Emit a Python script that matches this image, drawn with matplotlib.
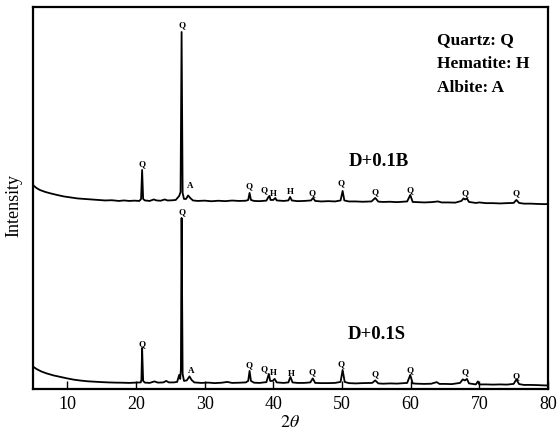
import matplotlib
matplotlib.use("Agg")
import matplotlib.pyplot as plt

# upper pattern (D+0.1B): 2theta and intensity (arbitrary, offset)
top_x = [5.0, 5.5, 6.0, 6.8, 7.6, 8.5, 9.5, 10.5, 11.5, 12.5, 13.5, 14.5, 15.5, 16.5,
         17.5, 18.3, 19.0, 19.8, 20.5, 20.75, 20.9, 21.05, 21.3, 22.0, 22.6, 23.0, 23.6,
         24.2, 24.6, 25.2, 25.8, 26.3, 26.5, 26.65, 26.8, 27.0, 27.3, 27.6, 27.9, 28.3,
         29.0, 30.0, 31.0, 32.0, 33.0, 34.0, 35.0, 36.0, 36.35, 36.55, 36.75, 37.2, 38.0,
         39.0, 39.3, 39.45, 39.6, 40.0, 40.3, 40.5, 41.5, 42.2, 42.45, 42.7, 43.5, 44.5,
         45.5, 45.8, 46.1, 47.0, 48.0, 49.0, 49.8, 50.1, 50.35, 51.0, 52.0, 53.0, 54.3,
         54.85, 55.3, 56.0, 57.0, 58.0, 59.5, 59.95, 60.3, 61.0, 62.0, 63.0, 64.0, 64.5,
         65.5, 66.5, 67.4, 67.7, 67.95, 68.2, 68.5, 69.5, 70.0, 71.0, 72.0, 73.0, 74.0,
         75.0, 75.4, 75.8, 76.5, 77.5, 78.5, 79.5, 80.0]
top_y = [204, 201, 199, 197, 195.5, 194, 192.5, 191.5, 190.5, 190, 189.5, 189, 188.5, 188.7,
         188, 188.5, 188, 188.3, 188, 190, 219, 190, 188.5, 188, 189.5, 188.5, 188.2,
         189.5, 188.5, 188.6, 189, 193, 197, 357, 196, 190, 190, 193.5, 191, 188.5,
         188, 188.3, 187.7, 188.2, 187.8, 188.4, 188, 188.2, 189, 196, 189, 188, 187.8,
         188.3, 192, 193, 189, 189, 191, 188.5, 188, 188.5, 192, 188.5, 187.8, 188,
         188.5, 191, 188, 187.5, 187.8, 187.5, 188.5, 198, 188.5, 187.5, 187.5, 187.2, 187.5,
         191, 187.3, 187, 187.2, 186.8, 187.5, 194, 187, 186.8, 186.5, 186.8, 187.5, 186.5,
         186.5, 186.3, 188, 190.5, 189.5, 190.5, 187, 186, 186.5, 185.8, 185.8, 185.5, 185.8,
         186, 189, 186, 185.3, 185.3, 185, 184.8, 185]

# lower pattern (D+0.1S)
bot_x = [5.0, 5.5, 6.2, 7.0, 8.0, 9.0, 10.0, 11.0, 12.0, 13.0, 14.0, 15.0, 16.0, 17.0,
         18.0, 19.0, 20.0, 20.7, 20.8, 20.9, 21.05, 21.3, 22.0, 22.7, 23.2, 24.0, 24.4,
         24.8, 25.5, 26.0, 26.3, 26.45, 26.55, 26.65, 26.8, 27.0, 27.4, 27.8, 28.1, 28.5,
         29.5, 30.5, 31.5, 32.5, 33.3, 34.0, 35.0, 36.0, 36.35, 36.55, 36.75, 37.2, 38.0,
         39.0, 39.35, 39.55, 39.9, 40.2, 40.5, 41.5, 42.2, 42.5, 42.8, 43.5, 44.5, 45.4,
         45.75, 46.1, 47.0, 48.0, 49.0, 49.8, 50.1, 50.4, 51.0, 52.0, 53.0, 54.4, 54.85,
         55.3, 56.0, 57.0, 58.0, 59.5, 59.95, 60.3, 61.0, 62.0, 63.0, 63.8, 64.2, 65.0,
         66.0, 67.2, 67.6, 67.9, 68.2, 68.5, 69.5, 69.8, 70.0, 71.0, 72.0, 73.0, 74.0,
         75.0, 75.4, 75.8, 76.5, 77.5, 78.5, 79.5, 80.0]
bot_y = [22.5, 20, 17.5, 15.5, 13.5, 12, 10.5, 9.2, 8.3, 7.6, 7.2, 6.8, 6.5, 6.3,
         6.2, 6.0, 6.3, 6.5, 9, 41, 8, 6.3, 6, 7.5, 6.3, 6.5, 8,
         6.5, 6.5, 7, 14, 10, 20, 171, 15, 8, 8.5, 12.5, 9, 6.5,
         6, 6.3, 5.8, 6.2, 7, 6, 6.2, 6.5, 8, 18, 8, 6.2, 6,
         6.8, 15, 8, 8, 10, 6.5, 6, 6.5, 12, 6.5, 6, 6, 6.5,
         10.5, 6, 5.8, 5.8, 6, 7, 19, 7, 5.8, 5.5, 5.8, 6, 8.5,
         5.5, 5.2, 5.5, 5.3, 6, 14, 5.5, 5.2, 5, 5.2, 6.8, 5, 5,
         4.8, 6, 9.5, 8.5, 10, 5.5, 4.5, 7.5, 4.5, 4.5, 4.3, 4.5, 4.3,
         5, 9.5, 4.8, 4, 4, 3.8, 3.5, 3.5]

# phase labels over the peaks
top_lab_x = [20.9, 26.65, 27.95, 36.5, 38.6, 40.05, 42.5, 45.7, 49.9, 54.8, 59.9, 67.9, 75.3]
top_lab_y = [225, 364, 203, 203, 199, 195, 197, 196, 206, 197, 199, 196, 196]
top_lab_t = ["Q", "Q", "A", "Q", "Q", "H", "H", "Q", "Q", "Q", "Q", "Q", "Q"]
bot_lab_x = [20.9, 26.65, 28.0, 36.5, 38.6, 40.05, 42.6, 45.7, 49.9, 54.8, 59.9, 67.9, 75.3]
bot_lab_y = [45, 177, 18, 24, 20, 16, 15, 17, 25, 15, 19, 17, 13]
bot_lab_t = ["Q", "Q", "A", "Q", "Q", "H", "H", "Q", "Q", "Q", "Q", "Q", "Q"]

legend_lines = ["Quartz: Q", "Hematite: H", "Albite: A"]

plt.rcParams["font.family"] = ["Liberation Serif", "DejaVu Serif"]
plt.rcParams["mathtext.fontset"] = "stix"

fig = plt.figure(figsize=(5.58, 4.36), dpi=100)
ax = fig.add_axes([0.059, 0.108, 0.923, 0.876])

ax.plot(top_x, top_y, color="black", lw=1.3)
ax.plot(bot_x, bot_y, color="black", lw=1.3)

for x, y, t in zip(top_lab_x, top_lab_y, top_lab_t):
    ax.text(x, y, t, ha="center", va="center", fontsize=6.5, fontweight="bold")
for x, y, t in zip(bot_lab_x, bot_lab_y, bot_lab_t):
    ax.text(x, y, t, ha="center", va="center", fontsize=6.5, fontweight="bold")

for i, line in enumerate(legend_lines):
    ax.text(63.8, 349 - 24 * i, line, ha="left", va="center", fontsize=12.5, fontweight="bold")

ax.text(55.4, 227, "D+0.1B", ha="center", va="center", fontsize=13.5, fontweight="bold")
ax.text(55.0, 54, "D+0.1S", ha="center", va="center", fontsize=13.5, fontweight="bold")

ax.set_xlim(5, 80)
ax.set_ylim(0, 382)
ax.set_xticks(range(10, 81, 10))
ax.set_yticks([])
ax.tick_params(axis="x", direction="in", length=6, width=1, labelsize=13, pad=5)
for s in ax.spines.values():
    s.set_linewidth(1.6)

ax.set_xlabel(r"$2\theta$", fontsize=13, labelpad=1)
ax.set_ylabel("Intensity", fontsize=13)
ax.yaxis.set_label_coords(-0.02, 0.479)

fig.savefig("out.png", dpi=100)
